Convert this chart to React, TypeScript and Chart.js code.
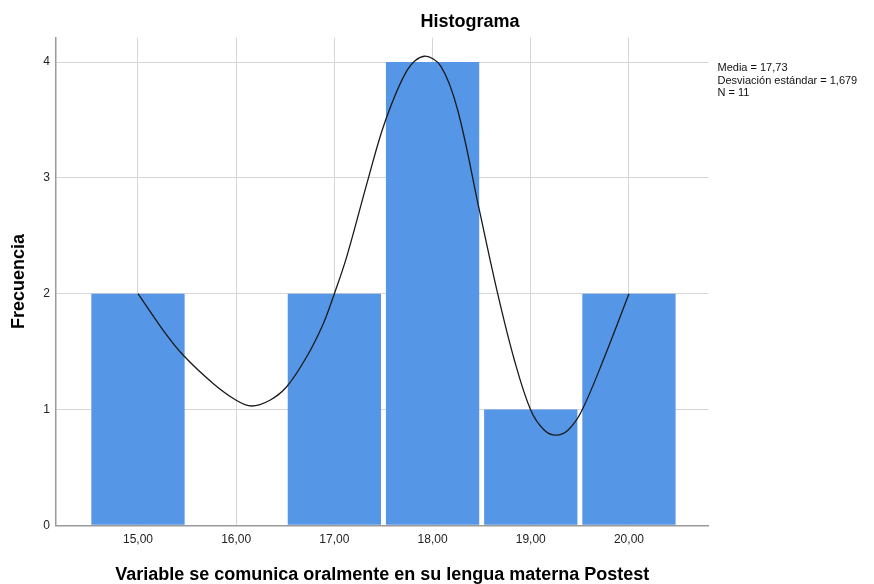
import React, { useEffect, useRef } from "react";
import { Chart, registerables } from "chart.js";

Chart.register(...registerables);

// ---- data ----
const binCenters = [15, 16, 17, 18, 19, 20];
const frequencies = [2, 0, 2, 4, 1, 2];
const curveX = [15.0, 15.255, 15.459, 15.765, 16.0, 16.156, 16.343, 16.514, 16.718, 16.888, 17.0, 17.126, 17.347, 17.517, 17.745, 17.915, 18.085, 18.255, 18.476, 18.663, 18.833, 19.0, 19.139, 19.259, 19.378, 19.514, 19.752, 20.0];
const curveY = [2.0, 1.686, 1.47, 1.225, 1.08, 1.03, 1.08, 1.196, 1.455, 1.743, 2.0, 2.32, 3.0, 3.487, 3.934, 4.05, 3.963, 3.588, 2.723, 2.0, 1.427, 0.994, 0.821, 0.778, 0.821, 0.98, 1.455, 2.0];
const yTicks = [0, 1, 2, 3, 4];
const statsLines = ["Media = 17,73", "Desviación estándar = 1,679", "N = 11"];
const chartTitle = "Histograma";
const xTitle = "Variable se comunica oralmente en su lengua materna Postest";
const yTitle = "Frecuencia";

const FONT = "'Liberation Sans', Arial, Helvetica, sans-serif";

const overlayText = {
  id: "overlayText",
  afterDraw(chart: any) {
    const ctx = chart.ctx;
    ctx.save();
    ctx.fillStyle = "#000";
    ctx.font = `bold 18px ${FONT}`;
    ctx.textAlign = "center";
    ctx.textBaseline = "middle";
    ctx.fillText(chartTitle, 470, 22);
    ctx.font = `11px ${FONT}`;
    ctx.textAlign = "left";
    ctx.fillStyle = "#111";
    statsLines.forEach((t, i) => ctx.fillText(t, 717.5, 68 + i * 12.7));
    ctx.restore();
  },
};

export default function App() {
  const ref = useRef<HTMLCanvasElement>(null);
  useEffect(() => {
    if (!ref.current) return;
    const chart = new Chart(ref.current, {
      type: "bar",
      data: {
        datasets: [
          {
            type: "line",
            label: "curve",
            data: curveX.map((x, i) => ({ x, y: curveY[i] })),
            borderColor: "#1a1a1a",
            borderWidth: 1.3,
            pointRadius: 0,
            tension: 0.35,
            fill: false,
            order: 0,
          } as any,
          {
            type: "bar",
            label: "Frecuencia",
            data: binCenters.map((x, i) => ({ x, y: frequencies[i] })),
            backgroundColor: "#5596e6",
            borderWidth: 0,
            barPercentage: 0.95,
            categoryPercentage: 1,
            order: 1,
          } as any,
        ],
      },
      options: {
        responsive: false,
        animation: false,
        layout: { padding: { top: 37.7, right: 165.5, left: 0, bottom: 0 } },
        plugins: {
          legend: { display: false },
          tooltip: { enabled: false },
          title: { display: false },
        },
        scales: {
          x: {
            type: "linear",
            offset: false,
            min: 14.165,
            max: 20.81,
            afterBuildTicks: (s: any) => {
              s.ticks = binCenters.map((v) => ({ value: v }));
            },
            afterFit: (s: any) => {
              s.height = 58.7;
            },
            ticks: {
              padding: 7.5,
              color: "#222",
              font: { family: FONT, size: 12 },
              callback: (v: any) => Number(v).toFixed(2).replace(".", ","),
            },
            grid: { color: "#d6d6d6", lineWidth: 1, drawTicks: false, offset: false },
            border: { color: "#9a9a9a", width: 1.5 },
            title: {
              display: true,
              text: xTitle,
              color: "#000",
              font: { family: FONT, size: 18, weight: "bold", lineHeight: 1 },
              padding: { top: 0, bottom: 0 },
            },
          },
          y: {
            type: "linear",
            min: 0,
            max: 4.21,
            afterBuildTicks: (s: any) => {
              s.ticks = yTicks.map((v) => ({ value: v }));
            },
            afterFit: (s: any) => {
              s.width = 56;
            },
            ticks: {
              padding: 6,
              color: "#222",
              font: { family: FONT, size: 12 },
            },
            grid: { color: "#d6d6d6", lineWidth: 1, drawTicks: false },
            border: { color: "#9a9a9a", width: 1.5 },
            title: {
              display: true,
              text: yTitle,
              color: "#000",
              font: { family: FONT, size: 18, weight: "bold", lineHeight: 1 },
              padding: { top: 9.7, bottom: 0 },
            },
          },
        },
      },
      plugins: [overlayText],
    } as any);
    return () => chart.destroy();
  }, []);
  return (
    <div style={{ position: "fixed", left: 0, top: 0, width: 874, height: 584, background: "#fff" }}>
      <canvas ref={ref} width={874} height={584} style={{ width: 874, height: 584 }} />
    </div>
  );
}
